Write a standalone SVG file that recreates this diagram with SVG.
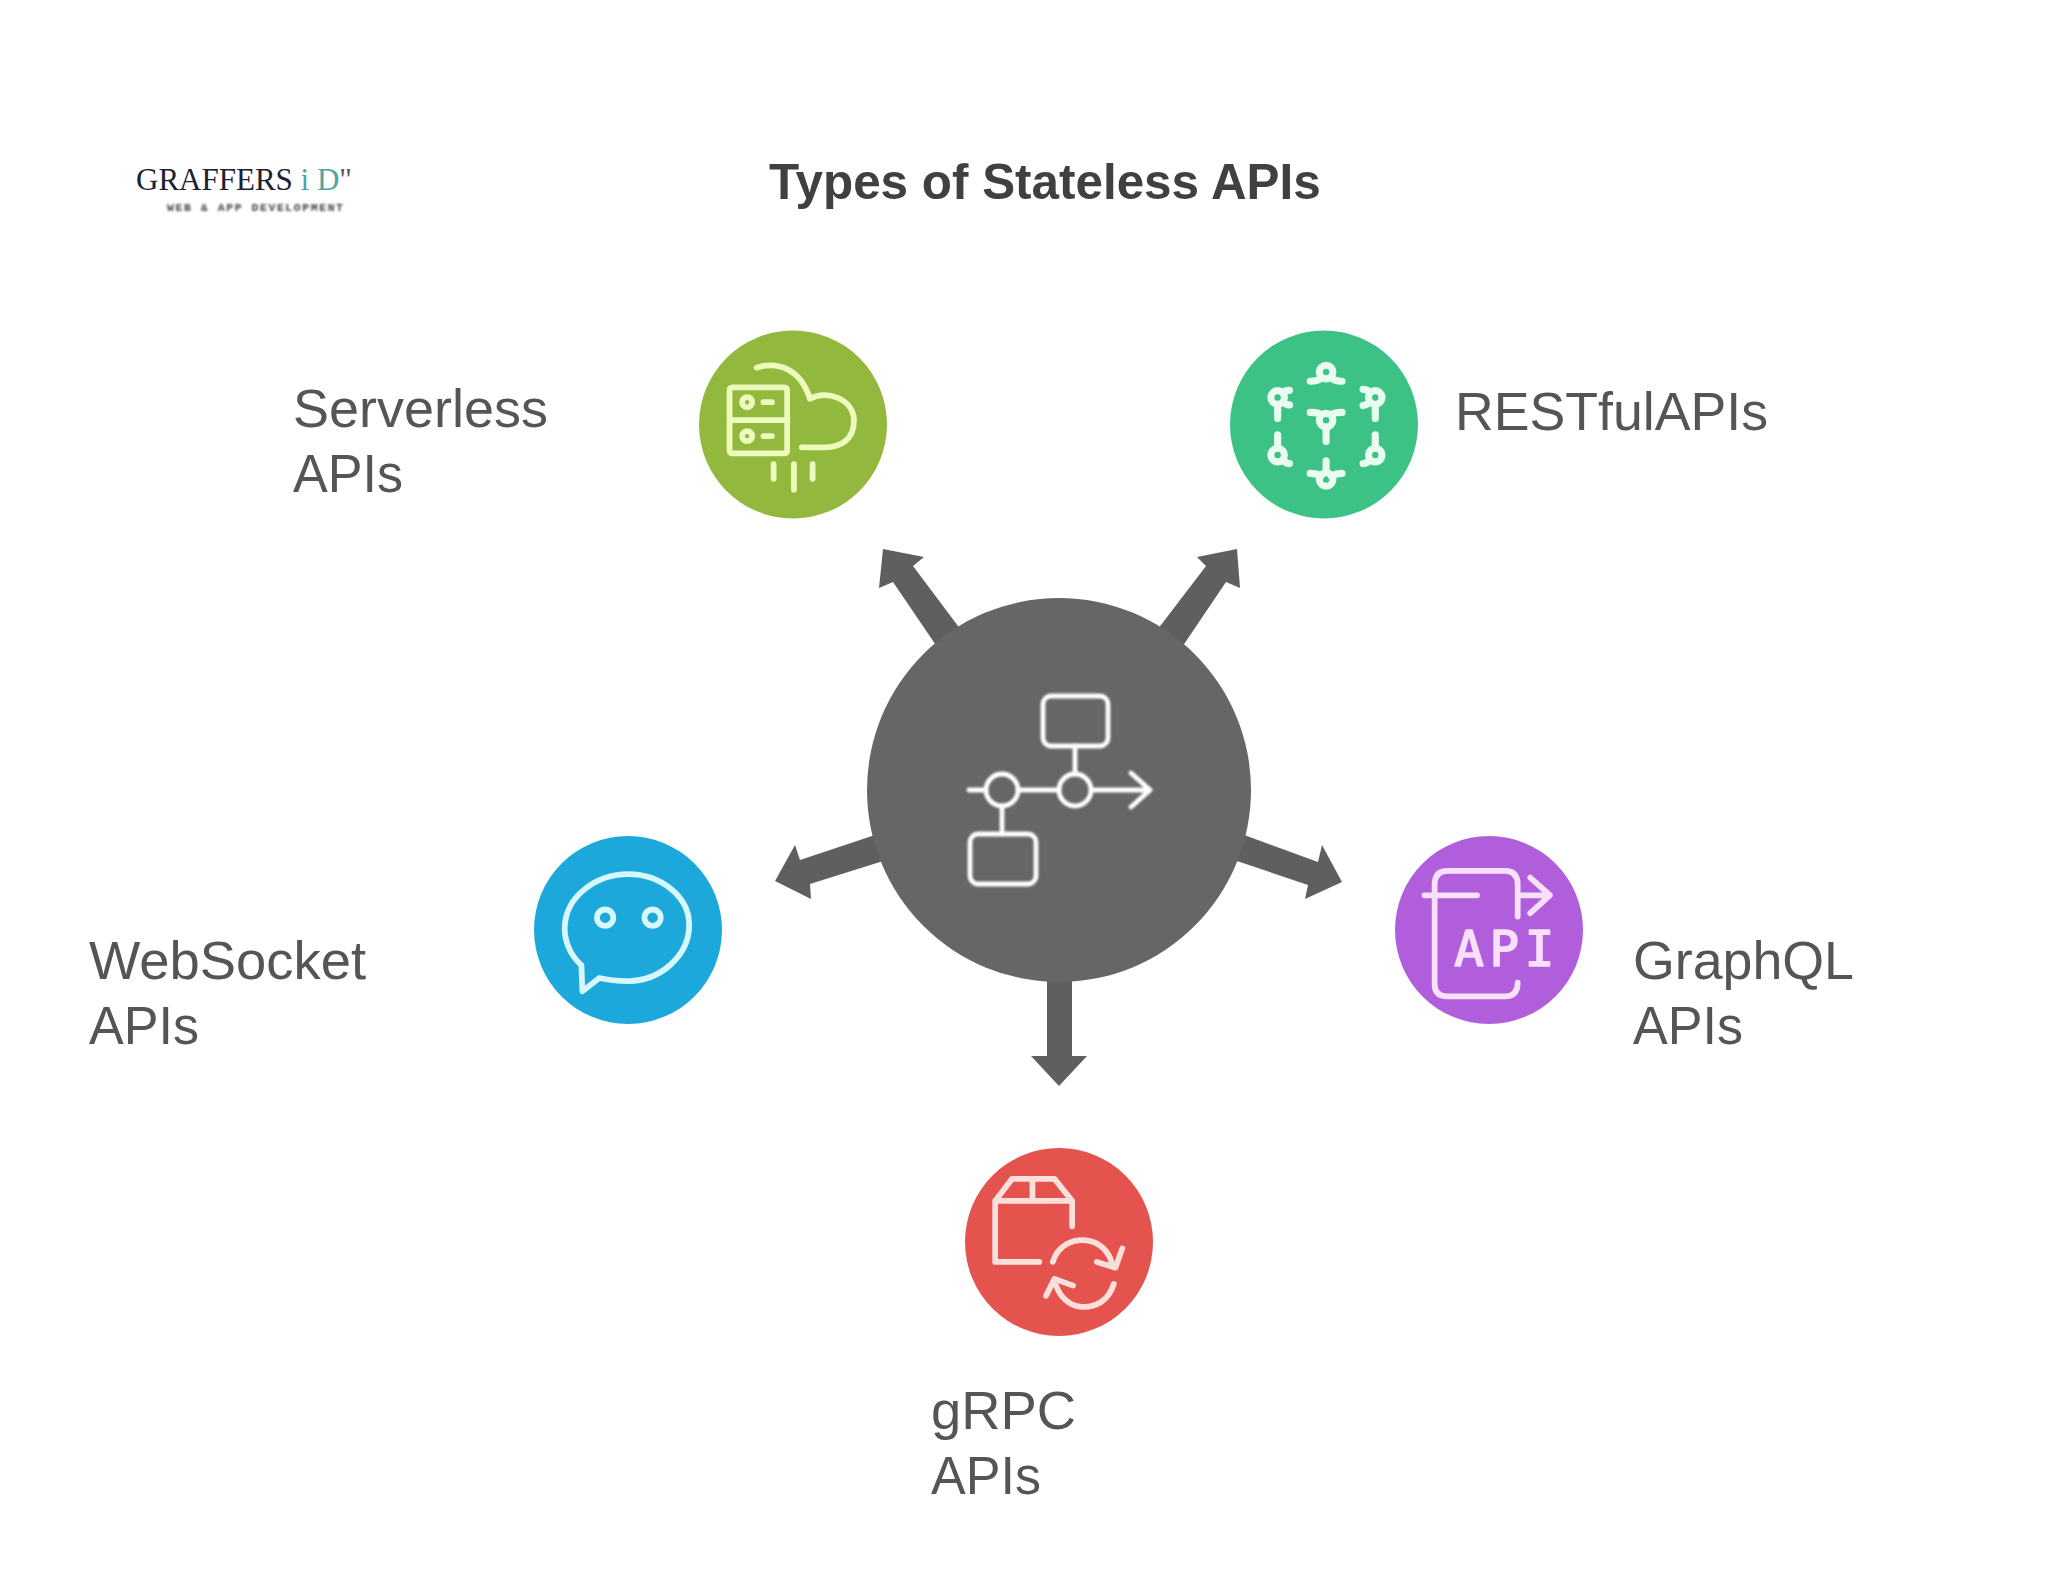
<svg xmlns="http://www.w3.org/2000/svg" width="2048" height="1582" viewBox="0 0 2048 1582">
<style>
text{font-family:"Liberation Sans",Arial,sans-serif}
.title{font-size:49.400px;font-weight:700;fill:#404040}
.label{font-size:53.6px;fill:#555}
.arrow{fill:#5f5f5f}
.ic{fill:none;stroke-width:17;stroke-linecap:round;stroke-linejoin:round}
.hub{fill:none;stroke:#fff;stroke-width:4.8;stroke-linecap:round;stroke-linejoin:round}
</style>
<defs><filter id="soft" x="-10%" y="-10%" width="120%" height="120%"><feGaussianBlur stdDeviation="1"/></filter></defs>
<rect width="2048" height="1582" fill="#fff"/>
<g id="logo">
<text x="136" y="190" font-size="31" textLength="216" style="font-family:'Liberation Serif',serif" fill="#1c2230">GRAFFERS <tspan fill="#4fa3a5">i D</tspan><tspan fill="#555">"</tspan></text>
<text x="167" y="211" font-size="11.5" textLength="176" lengthAdjust="spacing" fill="#444" filter="url(#soft)" style="font-family:'Liberation Mono',monospace;font-weight:700">WEB &amp; APP DEVELOPMENT</text>
</g>
<text id="title" class="title" x="769" y="199">Types of Stateless APIs</text>
<g id="connectors">
<polygon class="arrow" points="883,549 924,557 913,566 970,642 946,660 893,582 879,588"/>
<polygon class="arrow" points="1237,549 1197,557 1206,566 1148,642 1172,662 1226,582 1240,588"/>
<polygon class="arrow" points="1342,882 1322,845 1318,862 1228,829 1219,855 1308,885 1305,899"/>
<polygon class="arrow" points="775,881 795,845 800,860 890,830 899,856 810,884 811,899"/>
<polygon class="arrow" points="1059,1086 1031,1056 1047,1056 1047,970 1072,970 1072,1056 1087,1056"/>
</g>
<g id="node-center">
<circle cx="1059" cy="790" r="192" fill="#666"/>
<g class="hub" filter="url(#soft)">
<rect x="1043" y="696" width="65" height="50" rx="8"/>
<rect x="970" y="834" width="66" height="50" rx="8"/>
<circle cx="1002" cy="790" r="16"/><circle cx="1075" cy="790" r="16"/>
<path d="M1075 746V774M1002 806V834M969 790H986M1018 790H1059M1091 790H1150M1131 773L1150 790L1131 807"/>
</g>
</g>
<g id="node-serverless">
<circle cx="793" cy="424.500" r="94" fill="#93b83e"/>
<g transform="translate(677 310) scale(.339)" class="ic" stroke="#edfbbd" filter="url(#soft)">
<rect x="155" y="228" width="170" height="195" rx="8"/>
<path d="M155 325H325M255 272H280M255 372H280M235 170C300 150 365 175 392 262C440 235 520 260 522 325C522 385 480 405 440 405H368M285 455V498M345 455V530M400 455V498"/>
<circle cx="207" cy="272" r="15"/><circle cx="207" cy="372" r="15"/>
</g>
<text class="label" x="293" y="427" textLength="255" lengthAdjust="spacingAndGlyphs">Serverless</text>
<text class="label" x="293" y="492" textLength="110" lengthAdjust="spacingAndGlyphs">APIs</text>
</g>
<g id="node-restful">
<circle cx="1324" cy="424.500" r="94" fill="#3dc285"/>
<g transform="translate(1220 310) scale(.339)" class="ic" stroke="#e8fcf0" filter="url(#soft)" style="stroke-width:21">
<circle cx="313" cy="183" r="20"/><path d="M266 210C285 210 295 205 300 198M360 210C340 210 332 205 326 198"/>
<circle cx="313" cy="325" r="20"/><path d="M266 302C285 302 295 305 298 310M360 302C340 302 332 305 328 310M313 347V388"/>
<circle cx="313" cy="500" r="20"/><path d="M266 482C285 482 295 488 298 490M360 482C340 482 332 488 328 490M313 445V478"/>
<circle cx="170" cy="258" r="20"/><path d="M170 280V320M205 237C195 237 188 240 185 244M205 280C195 280 190 276 187 272"/>
<circle cx="458" cy="258" r="20"/><path d="M458 280V320M422 234C432 235 440 240 443 244M422 282C432 280 438 276 441 272"/>
<circle cx="170" cy="428" r="20"/><path d="M170 368V406M205 453C195 453 190 448 187 442"/>
<circle cx="458" cy="428" r="20"/><path d="M458 368V406M422 453C432 453 438 448 441 442"/>
</g>
<text class="label" x="1455" y="429.500" textLength="313" lengthAdjust="spacingAndGlyphs">RESTfulAPIs</text>
</g>
<g id="node-websocket">
<circle cx="628" cy="930" r="94" fill="#1da8dc"/>
<g transform="translate(518 820) scale(.339)" class="ic" stroke="#d6f7fb" filter="url(#soft)">
<path d="M190 505L187 428C150 395 135 350 138 310C145 220 235 160 325 160C420 160 505 225 505 310C505 400 420 475 325 475C295 475 265 472 240 466Z"/>
<circle cx="257" cy="288" r="24"/><circle cx="397" cy="288" r="24"/>
</g>
<text class="label" x="89" y="979" textLength="277" lengthAdjust="spacingAndGlyphs">WebSocket</text>
<text class="label" x="89" y="1044" textLength="110" lengthAdjust="spacingAndGlyphs">APIs</text>
</g>
<g id="node-graphql">
<circle cx="1489" cy="930" r="94" fill="#b05edb"/>
<g transform="translate(1377 820) scale(.339)" class="ic" stroke="#f8dffc" filter="url(#soft)">
<path d="M415 285V190Q415 150 378 150H208Q170 150 170 190V485Q170 520 208 520H378Q415 520 415 480M140 222H295M415 222H505M452 170L510 222L452 275"/>
<text x="228" y="432" font-size="145" fill="#f8dffc" textLength="295" style="font-family:'DejaVu Sans Mono',monospace;stroke-width:5">API</text>
</g>
<text class="label" x="1633" y="979" textLength="221" lengthAdjust="spacingAndGlyphs">GraphQL</text>
<text class="label" x="1633" y="1044" textLength="110" lengthAdjust="spacingAndGlyphs">APIs</text>
</g>
<g id="node-grpc">
<circle cx="1059" cy="1242" r="94" fill="#e4534e"/>
<g transform="translate(946 1128) scale(.339)" class="ic" stroke="#fbdfda" filter="url(#soft)">
<path d="M275 395H145V215L195 150H320L372 215V290M145 215H372M255 150V215"/>
<path d="M315 395C330 345 375 325 420 332C455 338 480 365 490 400M445 395L500 412L520 355"/>
<path d="M495 460C480 510 440 532 395 527C360 522 335 495 325 465M375 465L320 445L295 495"/>
</g>
<text class="label" x="931" y="1429" textLength="145" lengthAdjust="spacingAndGlyphs">gRPC</text>
<text class="label" x="931" y="1494" textLength="110" lengthAdjust="spacingAndGlyphs">APIs</text>
</g>
</svg>
